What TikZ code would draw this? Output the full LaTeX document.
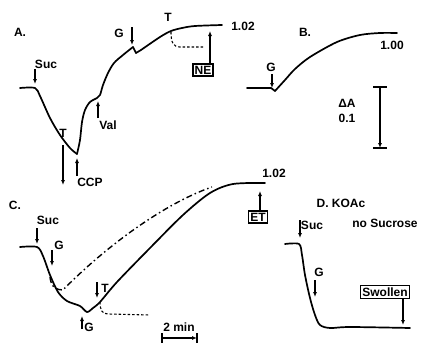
\documentclass[tikz,border=0pt]{standalone}
\usepackage{fontspec}
\setmainfont{Liberation Sans}
\usetikzlibrary{arrows.meta}
\begin{document}
\begin{tikzpicture}[x=1pt,y=-1pt,
  trace/.style={line width=1.7pt,line cap=round,line join=round},
  dashtrace/.style={line width=1.1pt,dash pattern=on 2.5pt off 2pt},
  dotdash/.style={line width=1.4pt,dash pattern=on 6pt off 3pt on 1.5pt off 3pt},
  arrowline/.style={line width=1.1pt,-{Latex[length=5pt,width=4pt]}},
  lbl/.style={font=\fontsize{12}{13}\selectfont\bfseries,inner sep=0pt},
  boxlbl/.style={draw,line width=1.3pt,font=\fontsize{12}{13}\selectfont\bfseries,inner sep=1.8pt}]
\useasboundingbox (0,0) rectangle (424,348);
% ---------------- Panel A
\node[lbl] (A) at (20,32) {A.};
\draw[trace] plot[smooth] coordinates {(20,88) (35,88) (40,96) (50,118) (60,135) (70,148) (77,154)};
\draw[trace] plot[smooth] coordinates {(77,154) (80,140) (82,122) (85,110) (90,102) (97,98) (100,95) (103,85) (108,73) (114,63) (123,55) (133,47)};
\draw[trace] (133,47) -- (136,53) -- (141,50);
\draw[trace] plot[smooth] coordinates {(141,50) (160,37) (171,31) (182,28) (195,26) (222,25)};
\node[lbl] (asuc) at (46,64) {Suc};
\coordinate (asuc1) at (35,69); \coordinate (asuc2) at (35,84);
\draw[arrowline] (asuc1) -- (asuc2);
\node[lbl] (aT1) at (63,133) {T};
\coordinate (aT1a) at (63,145); \coordinate (aT1b) at (63,185);
\draw[arrowline] (aT1a) -- (aT1b);
\node[lbl] (accp) at (90,182) {CCP};
\coordinate (accp1) at (77,176); \coordinate (accp2) at (77,158);
\draw[arrowline] (accp1) -- (accp2);
\node[lbl] (aval) at (108,125) {Val};
\coordinate (aval1) at (98,118); \coordinate (aval2) at (98,101);
\draw[arrowline] (aval1) -- (aval2);
\node[lbl] (aG) at (119,33) {G};
\coordinate (aG1) at (132,27); \coordinate (aG2) at (132,45);
\draw[arrowline] (aG1) -- (aG2);
\node[lbl] (aT2) at (168,17) {T};
\draw[dashtrace] (171,32) .. controls (171,42) and (173,47) .. (180,47) -- (203,47);
\node[boxlbl] (NE) at (203,70) {NE};
\coordinate (ne2) at (210,31);
\draw[arrowline] (NE.north -| ne2) -- (ne2);
\node[lbl] (a102) at (243,26) {1.02};
% ---------------- Panel B
\node[lbl] (B) at (305,32) {B.};
\draw[trace] (247,88) -- (271,88) -- (275,91);
\draw[trace] plot[smooth] coordinates {(275,91) (285,80) (295,69) (310,57) (337,42) (360,35) (380,33) (397,33)};
\node[lbl] (bG) at (271,67) {G};
\coordinate (bG1) at (272,74); \coordinate (bG2) at (272,88);
\draw[arrowline] (bG1) -- (bG2);
\node[lbl] (b100) at (392,45) {1.00};
\node[lbl] (dA) at (347,103) {ΔA};
\node[lbl] (d01) at (347,118) {0.1};
\coordinate (sb1) at (380,87); \coordinate (sb2) at (380,148);
\draw[arrowline] (sb1) -- (sb2);
\draw[line width=1.2pt] (373,87) -- (387,87) (373,148) -- (387,148);
% ---------------- Panel C
\node[lbl] (C) at (15,205) {C.};
\draw[trace] plot[smooth] coordinates {(20,247) (37,247) (43,256) (50,275) (58,292) (67,301) (80,306) (87,312) (93,308) (100,302) (117,282) (150,248) (183,215) (210,193) (233,184) (265,183)};
\draw[dotdash] (50,277) .. controls (51,287) and (56,290) .. (63,290) .. controls (100,252) and (160,205) .. (212,187);
\node[lbl] (csuc) at (48,220) {Suc};
\coordinate (csuc1) at (37,228); \coordinate (csuc2) at (37,244);
\draw[arrowline] (csuc1) -- (csuc2);
\node[lbl] (cG1) at (59,245) {G};
\coordinate (cG1a) at (52,250); \coordinate (cG1b) at (52,266);
\draw[arrowline] (cG1a) -- (cG1b);
\node[lbl] (cT) at (105,288) {T};
\coordinate (cTa) at (97,282); \coordinate (cTb) at (97,298);
\draw[arrowline] (cTa) -- (cTb);
\draw[dashtrace] (100,302) .. controls (100,310) and (102,314) .. (108,314) -- (150,315);
\node[lbl] (cG2) at (89,327) {G};
\coordinate (cG2a) at (82,329); \coordinate (cG2b) at (82,316);
\draw[arrowline] (cG2a) -- (cG2b);
\node[lbl] (tmin) at (179,327) {2 min};
\coordinate (tb1) at (162,338); \coordinate (tb2) at (197,338);
\draw[arrowline] (tb1) -- (tb2);
\draw[line width=1.1pt] (162,333) -- (162,343) (197,333) -- (197,343);
\node[boxlbl] (ET) at (258,217) {ET};
\coordinate (et2) at (260,191);
\draw[arrowline] (ET.north -| et2) -- (et2);
\node[lbl] (c102) at (274,173) {1.02};
% ---------------- Panel D
\node[lbl] (D) at (341,203) {D. KOAc};
\node[lbl] (nosuc) at (385,223) {no Sucrose};
\draw[trace] plot[smooth] coordinates {(285,244) (299,244) (302,255) (305,275) (310,298) (315,315) (320,325) (330,328) (350,327) (410,328)};
\node[lbl] (dsuc) at (312,225) {Suc};
\coordinate (dsuc1) at (300,220); \coordinate (dsuc2) at (300,238);
\draw[arrowline] (dsuc1) -- (dsuc2);
\node[lbl] (dG) at (319,272) {G};
\coordinate (dG1) at (315,280); \coordinate (dG2) at (315,297);
\draw[arrowline] (dG1) -- (dG2);
\node[boxlbl] (sw) at (385,292) {Swollen};
\coordinate (sw2) at (403,325);
\draw[arrowline] (sw.south -| sw2) -- (sw2);
\end{tikzpicture}
\end{document}
